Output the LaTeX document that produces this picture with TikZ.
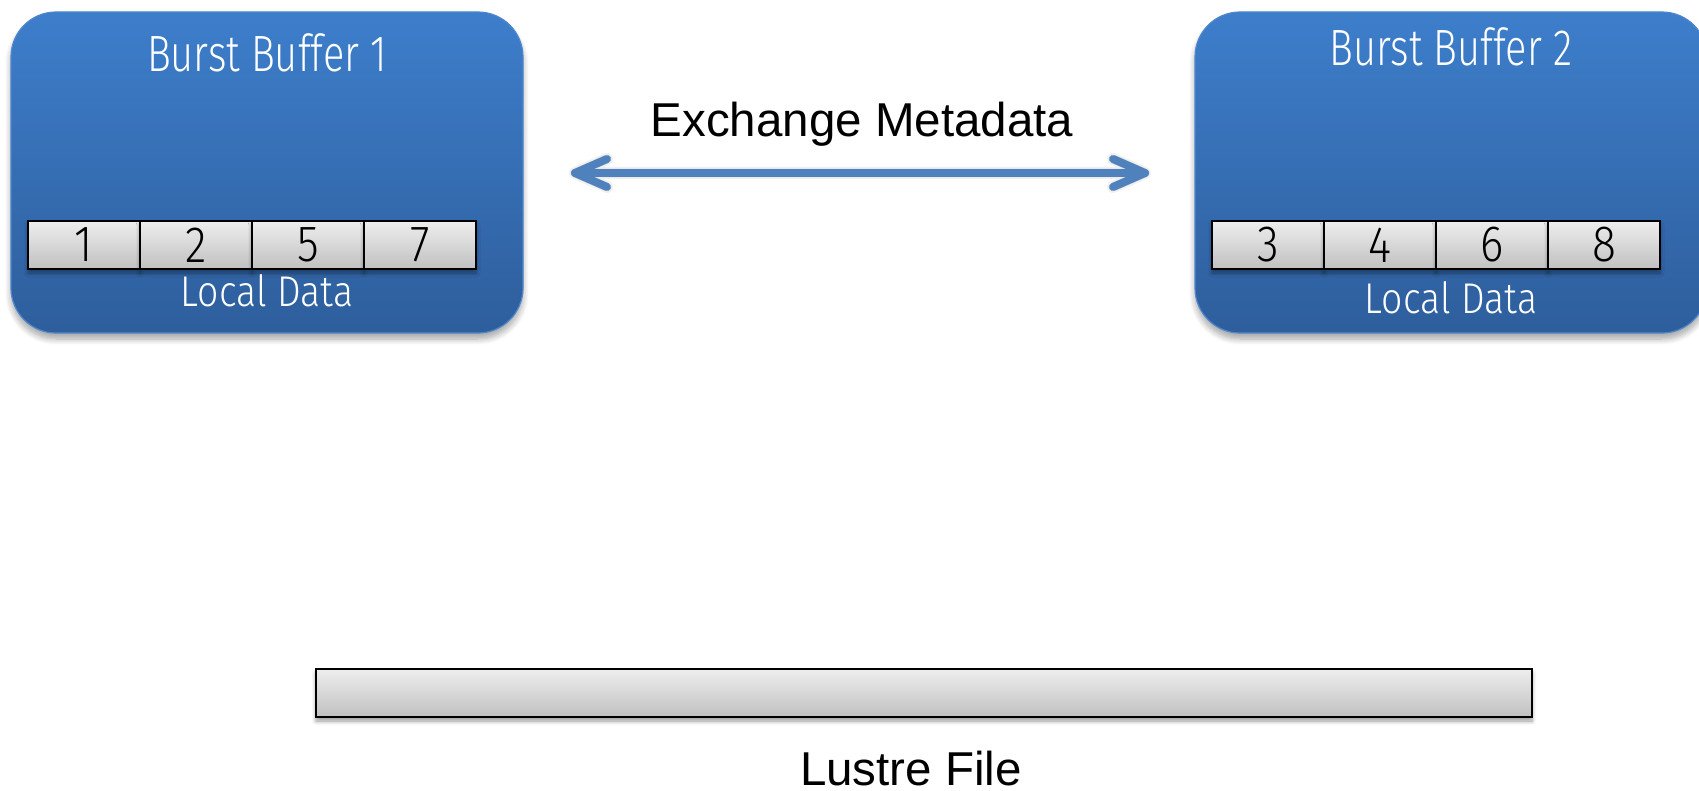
\documentclass[tikz,border=0pt]{standalone}
\usepackage{fontspec}
\setmainfont{Liberation Sans}
\newfontfamily\thinsans[FakeStretch=0.78]{Fira Sans Light}
\newfontfamily\thinsanswide[FakeStretch=0.87]{Fira Sans Light}
\usetikzlibrary{shadows.blur}

\definecolor{bbtop}{RGB}{61,126,203}
\definecolor{bbbottom}{RGB}{46,94,156}
\definecolor{bbedge}{RGB}{79,134,205}
\definecolor{celltop}{RGB}{238,238,238}
\definecolor{cellbottom}{RGB}{192,192,192}
\definecolor{linkblue}{RGB}{79,129,189}

\tikzset{
  buffer/.style={rounded corners=45pt, minimum width=512pt, minimum height=321pt,
    top color=bbtop, bottom color=bbbottom, draw=bbedge, line width=1.2pt,
    blur shadow={shadow xshift=0pt, shadow yshift=-6pt, shadow blur radius=6pt,
      shadow blur steps=8, shadow opacity=35}},
  cell/.style={draw=black, line width=2.2pt, top color=celltop, bottom color=cellbottom,
    minimum width=112pt, minimum height=48pt, inner sep=0pt,
    font=\thinsanswide\fontsize{51}{53}\selectfont,
    blur shadow={shadow xshift=0pt, shadow yshift=-4pt, shadow blur radius=4pt,
      shadow blur steps=6, shadow opacity=40}},
  filebar/.style={cell, minimum width=1216pt},
  title/.style={anchor=base, text=white, inner sep=0pt, font=\thinsans\fontsize{51}{53}\selectfont},
  datalabel/.style={anchor=base, text=white, inner sep=0pt, font=\thinsanswide\fontsize{43}{45}\selectfont},
  caption/.style={anchor=base, text=black, inner sep=0pt, font=\fontsize{47.5}{52}\selectfont},
  link/.style={draw=linkblue, line width=8pt, line cap=round, line join=round},
  linkshadow/.style={draw=black, line width=10pt, line cap=round, line join=round, opacity=0.06}
}

\begin{document}
\begin{tikzpicture}[x=1pt, y=-1pt]
  \useasboundingbox (0,0) rectangle (1699,791);
  \clip (0,0) rectangle (1699,791);

  % the two burst buffer nodes
  \node[buffer] (bb1) at (267,172.5) {};
  \node[buffer] (bb2) at (1451,172.5) {};
  \node[title] (bb1title) at (267,72) {Burst Buffer 1};
  \node[title] (bb2title) at (1451,66) {Burst Buffer 2};

  % local data blocks held by each buffer
  \node[cell] (c1) at (84,245)  {1};
  \node[cell] (c2) at (196,245) {2};
  \node[cell] (c5) at (308,245) {5};
  \node[cell] (c7) at (420,245) {7};
  \node[datalabel] (ld1) at (267,307) {Local Data};

  \node[cell] (c3) at (1268,245) {3};
  \node[cell] (c4) at (1380,245) {4};
  \node[cell] (c6) at (1492,245) {6};
  \node[cell] (c8) at (1604,245) {8};
  \node[datalabel] (ld2) at (1451,314) {Local Data};

  % metadata exchange between the buffers
  \coordinate (xl) at (575,173);
  \coordinate (xr) at (1145,173);
  \foreach \d/\w in {3/12, 4/9, 5/6} {
    \draw[linkshadow, line width=\w pt, shift={(1,\d)}]
      (xl) ++(32,-14) -- (xl) -- ++(32,14)
      (xl) -- (xr)
      (xr) ++(-32,-14) -- (xr) -- ++(-32,14);
  }
  \draw[link] (xl) ++(32,-14) -- (xl) -- ++(32,14);
  \draw[link] (xl) -- (xr);
  \draw[link] (xr) ++(-32,-14) -- (xr) -- ++(-32,14);
  \node[caption] (xlabel) at (862,137) {Exchange Metadata};

  % shared file on the parallel file system
  \node[filebar] (lustre) at (924,693) {};
  \node[caption] (lustrelabel) at (911,785) {Lustre File};
\end{tikzpicture}
\end{document}
